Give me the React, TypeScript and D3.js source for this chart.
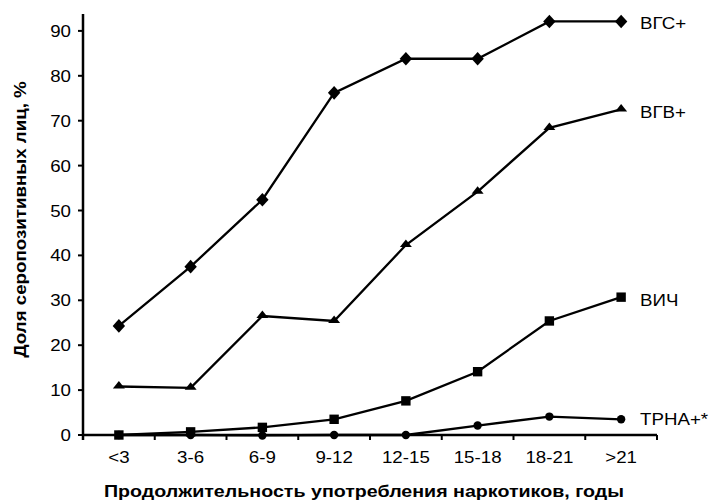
import React from "react";
import * as d3 from "d3";

const categories = ["<3", "3-6", "6-9", "9-12", "12-15", "15-18", "18-21", ">21"];
const hcv = [24.3, 37.5, 52.4, 76.2, 83.8, 83.8, 92.1, 92.1];
const hbv = [10.8, 10.5, 26.5, 25.4, 42.3, 54.2, 68.4, 72.5];
const hiv = [0, 0.7, 1.7, 3.5, 7.6, 14.1, 25.4, 30.7];
const trna = [0, 0, -0.1, 0, 0, 2.1, 4.1, 3.5];
const seriesNames = ["ВГС+", "ВГВ+", "ВИЧ", "ТРНА+*"];
const yTicks = [0, 10, 20, 30, 40, 50, 60, 70, 80, 90];

const W = 711, H = 502;
const left = 83, right = 657, top = 14, bottom = 435;
const FONT = "'Liberation Sans', Arial, sans-serif";

const diamond = {
  draw(ctx: any) {
    ctx.moveTo(0, -6.8);
    ctx.lineTo(6.2, 0);
    ctx.lineTo(0, 6.8);
    ctx.lineTo(-6.2, 0);
    ctx.closePath();
  },
};
const triangle = {
  draw(ctx: any) {
    ctx.moveTo(0, -5.5);
    ctx.lineTo(6, 2);
    ctx.lineTo(-6, 2);
    ctx.closePath();
  },
};
const square = {
  draw(ctx: any) {
    ctx.rect(-4.7, -4.7, 9.4, 9.4);
  },
};
const circle = {
  draw(ctx: any) {
    ctx.moveTo(4.2, 0);
    ctx.arc(0, 0, 4.2, 0, Math.PI * 2);
  },
};

function T(props: {
  x: number;
  y: number;
  anchor?: string;
  size: number;
  bold?: boolean;
  rotate?: number;
  sx?: number;
  children: React.ReactNode;
}) {
  const { x, y, anchor = "start", size, bold, rotate = 0, sx = 1.17, children } = props;
  return (
    <text
      transform={`translate(${x},${y}) rotate(${rotate}) scale(${sx},1)`}
      textAnchor={anchor}
      fontFamily={FONT}
      fontSize={size}
      fontWeight={bold ? "bold" : "normal"}
      fill="#000"
    >
      {children}
    </text>
  );
}

export default function App() {
  const x = d3.scaleBand().domain(categories).range([left, right]);
  const y = d3.scaleLinear().domain([0, 90]).range([bottom, bottom - 9 * 44.9]);
  const cx = (c: string) => (x(c) as number) + x.bandwidth() / 2;
  const line = d3.line<[string, number]>().x((d) => cx(d[0])).y((d) => y(d[1]));
  const all = [hcv, hbv, hiv, trna];
  const symbols = [diamond, triangle, square, circle];
  const labelY = [22.5, 112, 299.5, 418.5];
  const tickXs = d3.range(categories.length + 1).map((i) => left + i * x.bandwidth());

  return (
    <svg width={W} height={H} style={{ position: "absolute", left: 0, top: 0, background: "#fff" }}>
      <rect width={W} height={H} fill="#fff" />
      {/* y axis */}
      <line x1={left} x2={left} y1={top} y2={bottom + 5} stroke="#000" strokeWidth={2.5} />
      {yTicks.map((t) => (
        <g key={t}>
          <line x1={left - 5} x2={left} y1={y(t)} y2={y(t)} stroke="#000" strokeWidth={2} />
          <T x={71} y={y(t) + 6} anchor="end" size={16}>
            {t}
          </T>
        </g>
      ))}
      {/* x axis */}
      <line x1={left} x2={right} y1={bottom} y2={bottom} stroke="#000" strokeWidth={2.5} />
      {tickXs.map((tx, i) => (
        <line key={i} x1={tx} x2={tx} y1={bottom} y2={bottom + 5} stroke="#000" strokeWidth={2} />
      ))}
      {categories.map((c) => (
        <T key={c} x={cx(c)} y={463} anchor="middle" size={16}>
          {c}
        </T>
      ))}
      {/* series */}
      {all.map((vals, si) => {
        const pts = categories.map((c, i) => [c, vals[i]] as [string, number]);
        const sym = d3.symbol().type(symbols[si] as any);
        return (
          <g key={si}>
            <path d={line(pts) as string} fill="none" stroke="#000" strokeWidth={2.3} />
            {pts.map((p, i) => (
              <path key={i} d={sym() as string} transform={`translate(${cx(p[0])},${y(p[1])})`} fill="#000" />
            ))}
            <T x={640} y={labelY[si] + 6} size={16}>
              {seriesNames[si]}
            </T>
          </g>
        );
      })}
      {/* titles */}
      <T x={26} y={219.5} anchor="middle" size={16} bold rotate={-90}>
        Доля серопозитивных лиц, %
      </T>
      <T x={364} y={497} anchor="middle" size={17} bold sx={1.155}>
        Продолжительность употребления наркотиков, годы
      </T>
    </svg>
  );
}
